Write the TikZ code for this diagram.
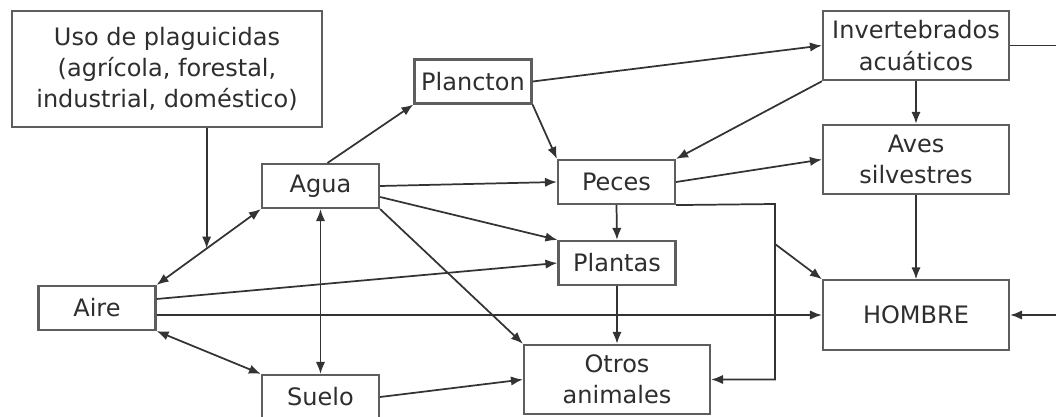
\documentclass[tikz,border=0pt]{standalone}
\usepackage{fontspec}
\setmainfont{DejaVu Sans}
\usetikzlibrary{arrows.meta,calc}
\definecolor{boxgray}{HTML}{5E5E5E}
\definecolor{linegray}{HTML}{333333}
\definecolor{txtgray}{HTML}{2E2E2E}
\begin{document}
\begin{tikzpicture}[x=0.75pt, y=-0.75pt, line cap=butt, line join=miter,
    box/.style={draw=boxgray, line width=1.6pt, fill=white, inner sep=0pt,
      text=txtgray, align=center, font=\fontsize{18pt}{23.5pt}\selectfont},
    small/.style={box, minimum width=87.75pt, minimum height=33pt},
    wide/.style={box, minimum width=139.5pt, minimum height=52pt},
    link/.style={draw=linegray, line width=1.3pt},
    arr/.style={link, -{Latex[length=9pt,width=7pt]}},
    darr/.style={link, {Latex[length=9pt,width=7pt]}-{Latex[length=9pt,width=7pt]}}]
  \useasboundingbox (0,0) rectangle (1056,417);
  \node[box, minimum width=232.5pt, minimum height=87pt] (uso) at (167,69)
    {Uso de plaguicidas\\(agrícola, forestal,\\industrial, doméstico)};
  \node[small] (plancton) at (473,81.5) {Plancton};
  \node[small] (agua) at (320.5,186) {Agua};
  \node[small] (peces) at (616.5,182) {Peces};
  \node[small] (plantas) at (617,263) {Plantas};
  \node[small] (aire) at (97,308) {Aire};
  \node[small] (suelo) at (320.5,397) {Suelo};
  \node[wide] (otros) at (617,379.5) {Otros\\animales};
  \node[wide] (inv) at (916,45.5) {Invertebrados\\acuáticos};
  \node[wide] (aves) at (916,159.5) {Aves\\silvestres};
  \node[wide] (hombre) at (916,315) {HOMBRE};
  \coordinate (pr) at (775,204);
  \coordinate (pb) at (775,244);
  \path (aire.north east) -- (agua.south west) coordinate[pos=0.48] (hit);
  \draw[darr] (aire.north east) -- (agua.south west);
  \draw[arr] (uso.south -| hit) -- (hit);
  \draw[darr] (aire.south east) -- (suelo.north west);
  \draw[darr] (agua.south) -- (suelo.north);
  \draw[arr] ($(agua.north)+(7,0)$) -- (plancton.south west);
  \draw[arr] (plancton.east) -- (inv.west);
  \draw[arr] (plancton.south east) -- (peces.north west);
  \draw[arr] (inv.south west) -- (peces.north east);
  \draw[arr] (inv.south) -- (aves.north);
  \draw[arr] (peces.east) -- (aves.west);
  \draw[arr] (agua.east) -- (peces.west);
  \draw[arr] ($(agua.east)+(0,11)$) -- (plantas.north west);
  \draw[arr] (agua.south east) -- (otros.north west);
  \draw[arr] (peces.south) -- (plantas.north);
  \draw[arr] (peces.south east) -- (pr) |- (otros.east);
  \draw[arr] (pb) -- (hombre.north west);
  \draw[arr] (aves.south) -- (hombre.north);
  \draw[arr] ($(aire.east)+(0,-9)$) -- (plantas.west);
  \draw[arr] (aire.east |- hombre.west) -- (hombre.west);
  \draw[arr] (plantas.south) -- (otros.north);
  \draw[arr] (suelo.east) -- (otros.west);
  \draw[arr] (inv.east) -- ++(65,0) |- (hombre.east);
\end{tikzpicture}
\end{document}
